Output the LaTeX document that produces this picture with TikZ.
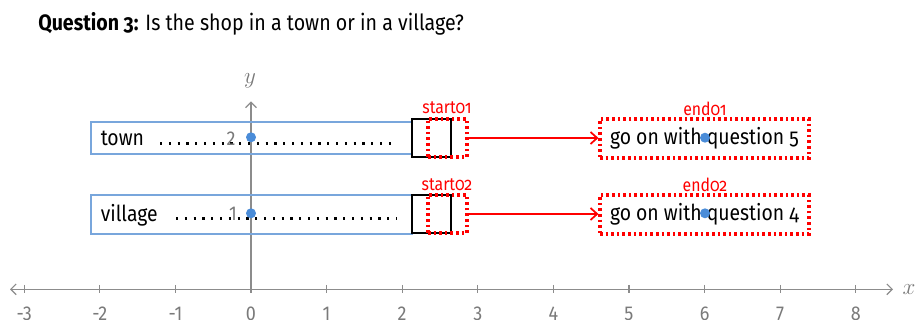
\documentclass[tikz,border=0pt]{standalone}
\usepackage{fontspec}
\setmainfont{Fira Sans}[Numbers=OldStyle,FakeStretch=0.88]
\newfontfamily\axisfont{Fira Sans}[Numbers=Lining,FakeStretch=0.9]
\usetikzlibrary{arrows.meta}
\definecolor{boxblue}{HTML}{78A6DC}
\definecolor{dotblue}{HTML}{4A8CD8}
\definecolor{axisgrey}{HTML}{8C8C8C}
\definecolor{labelgrey}{HTML}{7A7A7A}
\begin{document}
\begin{tikzpicture}[x=0.75pt,y=-0.75pt,
  optbox/.style={draw=boxblue,line width=1.1pt,rectangle,inner sep=0pt,minimum width=240.75pt},
  blacksq/.style={draw=black,line width=0.9pt,rectangle,inner sep=0pt,minimum width=29.25pt,minimum height=28.5pt},
  redbox/.style={draw=red,line width=2.3pt,dash pattern=on 2pt off 2.2pt,rectangle,inner sep=0pt},
  optlabel/.style={anchor=base west,inner sep=0pt,font=\fontsize{16.5}{19}\selectfont},
  leader/.style={line width=1.6pt,dash pattern=on 1.6pt off 5pt},
  redlabel/.style={text=red,inner sep=0pt,font=\fontsize{13.5}{16}\selectfont},
  bluedot/.style={circle,fill=dotblue,inner sep=0pt,minimum size=7.5pt},
  axis/.style={draw=axisgrey,line width=0.9pt},
  ticklabel/.style={text=labelgrey,anchor=base,inner sep=0pt,font=\axisfont\fontsize{15}{18}\selectfont},
  arr/.style={draw=red,line width=1.3pt,-{Straight Barb[length=5pt,width=9pt]}}
]
\useasboundingbox (0,0) rectangle (915,320);
\fill[white] (0,0) rectangle (915,320);

% title
\node[anchor=base west,inner sep=0pt,font=\fontsize{16.7}{19}\selectfont] (title) at (38,31)
  {\textbf{Question 3:} Is the shop in a town or in a village?};

% axes
\coordinate (xl) at (10,289.3);
\coordinate (xr) at (893,289.3);
\draw[axis,{Straight Barb[length=4pt,width=8pt]}-{Straight Barb[length=4pt,width=8pt]}] (xl) -- (xr);
\node[text=labelgrey,font=\fontsize{17}{19}\selectfont,inner sep=0pt] (xlab) at (909,290) {$x$};
\coordinate (yb) at (251,293);
\coordinate (yt) at (251,101.5);
\draw[axis,-{Straight Barb[length=4pt,width=8pt]}] (yb) -- (yt);
\node[text=labelgrey,font=\fontsize{17}{19}\selectfont,inner sep=0pt] (ylab) at (250,81) {$y$};
\foreach \k in {-3,...,8}{
  \draw[axis] ({251+75.6*\k},285) -- ({251+75.6*\k},293.5);
  \node[ticklabel] (t\k) at ({251+75.6*\k},321) {\k};
}

% option boxes
\node[optbox,minimum height=24pt] (town) at (251.5,138) {};
\node[optbox,minimum height=29.25pt] (village) at (251.5,214.5) {};
\node[optlabel] (towntxt) at (100.5,145.5) {town};
\node[optlabel] (villtxt) at (100.5,221.5) {village};
\coordinate (tl1) at (160,143.5);
\coordinate (tl2) at (397,143.5);
\coordinate (vl1) at (176,218.5);
\coordinate (vl2) at (397,218.5);
\draw[leader] (tl1) -- (tl2);
\draw[leader] (vl1) -- (vl2);
\node[ticklabel,anchor=center] (y2) at (231,139) {2};
\node[ticklabel,anchor=center] (y1) at (233,214) {1};

% black squares
\node[blacksq] (sq1) at (431.5,138) {};
\node[blacksq] (sq2) at (431.5,214) {};

% start boxes
\node[redbox,minimum width=29.25pt,minimum height=28.5pt] (s1) at (447.5,138) {};
\node[redbox,minimum width=29.25pt,minimum height=28.5pt] (s2) at (447.5,214) {};
\node[redlabel] (s1lab) at (447,108) {start01};
\node[redlabel] (s2lab) at (447,184.5) {start02};

% end boxes
\node[redbox,minimum width=156.75pt,minimum height=29.25pt,font=\fontsize{16.5}{19}\selectfont] (e1) at (704.5,138.5) {go on with question 5};
\node[redbox,minimum width=156.75pt,minimum height=29.25pt,font=\fontsize{16.5}{19}\selectfont] (e2) at (704.5,214.5) {go on with question 4};
\node[redlabel] (e1lab) at (705,109) {end01};
\node[redlabel] (e2lab) at (705,184.5) {end02};

% arrows
\draw[arr] (s1.east) -- (e1.west |- s1.east);
\draw[arr] (s2.east) -- (e2.west |- s2.east);

% points
\node[bluedot] (p1) at (251,137.3) {};
\node[bluedot] (p2) at (251,213.3) {};
\node[bluedot] (p3) at (705,137.7) {};
\node[bluedot] (p4) at (705,213.3) {};
\end{tikzpicture}
\end{document}
